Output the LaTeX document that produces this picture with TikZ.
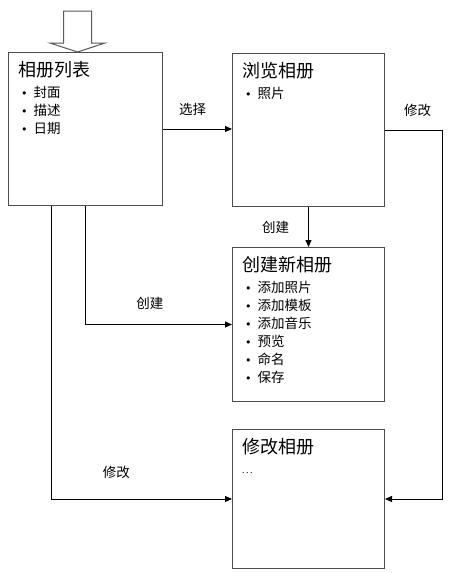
\documentclass[tikz,border=0pt]{standalone}
\usepackage{fontspec}
\setmainfont{Noto Sans CJK SC}
\newfontfamily\symfont{DejaVu Sans}
\usetikzlibrary{arrows.meta, positioning}

\newcommand{\itm}[1]{\hspace*{3pt}{\symfont\fontsize{11}{12}\selectfont •}\hspace{6pt}#1}
\newcommand{\ttl}[1]{{\fontsize{18}{20}\selectfont #1}}

\begin{document}
\begin{tikzpicture}[x=1pt, y=-1pt,
  box/.style={draw=black!70, line width=1pt, fill=white, anchor=north west,
              inner sep=0pt, minimum width=152pt},
  txt/.style={anchor=north west, align=left, inner sep=0pt,
              font=\fontsize{13.5}{18}\selectfont},
  hollow/.style={draw=black!65, line width=1pt, fill=white, line join=miter},
  arr/.style={-{Triangle[length=7pt, width=6pt]}, line width=0.9pt},
  lbl/.style={font=\fontsize{13.5}{15}\selectfont, inner sep=1pt}
]
\useasboundingbox (0,0) rectangle (459,573);

%
%  Layout (pt, y downwards):
%
%  [list]  --select-->  [browse]  --edit--+
%    |  |                  |              |
%    |  +----create---> [create]          |
%    +-------edit-----> [edit]   <--------+
%

% --- album list ---
\node[box, minimum width=154pt, minimum height=153pt] (list) at (8,52) {};
\node[txt] (list-txt) at ([xshift=10pt, yshift=-9pt]list.north west)
  {\ttl{相册列表}\\[3pt] \itm{封面}\\ \itm{描述}\\ \itm{日期}};

% entry arrow (hollow)
\coordinate (entry) at ([xshift=-8pt]list.north);
\draw[hollow] (entry) -- ++(27.5,-9) -- ++(-13.5,0) -- ++(0,-32)
  -- ++(-28,0) -- ++(0,32) -- ++(-13.5,0) -- cycle;

% --- browse album ---
\node[box, minimum height=153pt] (browse) at (232,53) {};
\node[txt] (browse-txt) at ([xshift=10pt, yshift=-9pt]browse.north west)
  {\ttl{浏览相册}\\[3pt] \itm{照片}};

% --- create new album ---
\node[box, minimum height=154pt] (create) at (232,247) {};
\node[txt] (create-txt) at ([xshift=10pt, yshift=-9pt]create.north west)
  {\ttl{创建新相册}\\[3pt] \itm{添加照片}\\ \itm{添加模板}\\ \itm{添加音乐}\\
   \itm{预览}\\ \itm{命名}\\ \itm{保存}};

% --- edit album ---
\node[box, minimum height=139pt] (edit) at (232,429) {};
\node[txt] (edit-txt) at ([xshift=10pt, yshift=-9pt]edit.north west)
  {\ttl{修改相册}\\[2pt] {\fontsize{9}{12}\selectfont .\,.\,.}};

% ---- Connections ----

% list -> browse
\draw[arr] (list.east) -- node[lbl, above=12pt, xshift=-5pt] {选择} (browse.west |- list.east);

% browse -> edit, round the right side
\draw[arr] (browse.east) -- node[lbl, above=12pt, xshift=4pt] {修改} ++(57,0)
  |- (edit.east);

% browse -> create
\draw[arr] (browse.south) -- node[lbl, left=18pt] {创建} (create.north);

% list -> create
\draw[arr] (list.south) |- node[lbl, pos=0.72, above=13pt] {创建} (create.west);

% list -> edit
\draw[arr] ([xshift=-34pt]list.south) |- node[lbl, pos=0.68, above=19pt] {修改}
  (edit.west);

\end{tikzpicture}
\end{document}
